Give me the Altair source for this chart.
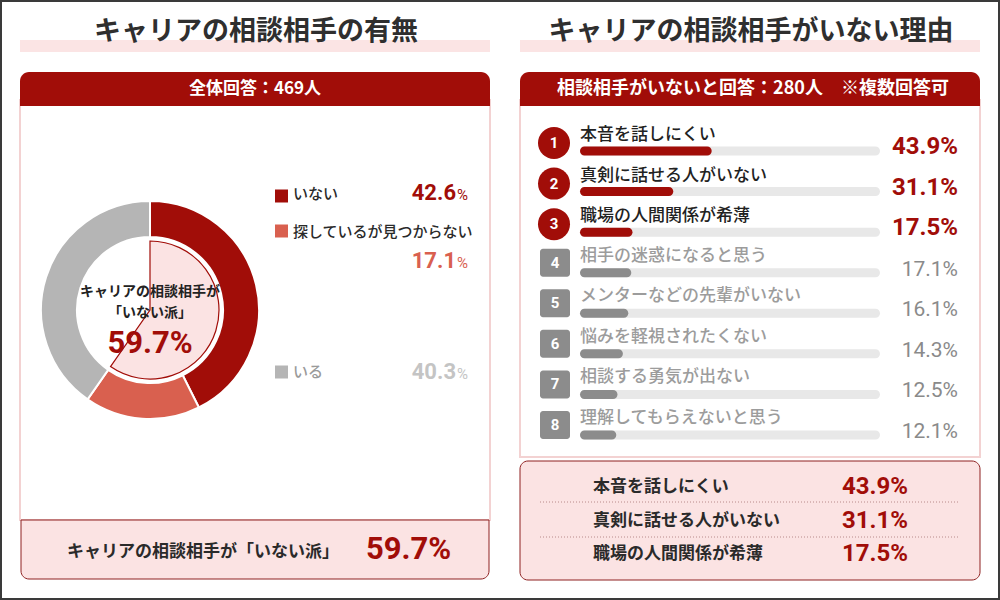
import altair as alt
import pandas as pd

# ---------------- data ----------------
left_title = "キャリアの相談相手の有無"
right_title = "キャリアの相談相手がいない理由"
left_header = "全体回答：469人"
right_header = "相談相手がいないと回答：280人　※複数回答可"

presence_labels = ["いない", "探しているが見つからない", "いる"]
presence_values = [42.6, 17.1, 40.3]
presence_order = [1, 2, 3]
presence_colors = ["#a10d08", "#d9604f", "#b5b5b5"]

none_group_line1 = "キャリアの相談相手が"
none_group_line2 = "「いない派」"
none_group_label = "キャリアの相談相手が「いない派」"
none_group_value = 59.7

reason_ranks = [1, 2, 3, 4, 5, 6, 7, 8]
reason_labels = [
    "本音を話しにくい",
    "真剣に話せる人がいない",
    "職場の人間関係が希薄",
    "相手の迷惑になると思う",
    "メンターなどの先輩がいない",
    "悩みを軽視されたくない",
    "相談する勇気が出ない",
    "理解してもらえないと思う",
]
reason_values = [43.9, 31.1, 17.5, 17.1, 16.1, 14.3, 12.5, 12.1]

# ---------------- styles ----------------
RED = "#a10d08"
SALMON = "#d9604f"
PINK = "#fbe3e3"
PINK_BORDER = "#f3d2d2"
GRAY_BAR = "#8c8c8c"
TRACK = "#e8e8e8"
DARK = "#2f2f2f"
JP = "Noto Sans CJK JP"
NUM = "Roboto"

presence_df = pd.DataFrame({
    "label": presence_labels,
    "value": presence_values,
    "order": presence_order,
})
presence_df["num"] = presence_df["value"].map(lambda v: f"{v:.1f}")

none_df = pd.DataFrame({"label": [none_group_label], "value": [none_group_value]})
none_df["text"] = none_df["value"].map(lambda v: f"{v:.1f}%")

reasons_df = pd.DataFrame({"rank": reason_ranks, "label": reason_labels, "value": reason_values})
reasons_df["text"] = reasons_df["value"].map(lambda v: f"{v:.1f}%")
reasons_df["rank_text"] = reasons_df["rank"].astype(str)
top3_df = reasons_df[reasons_df["rank"] <= 3]
rest_df = reasons_df[reasons_df["rank"] > 3]

blank = alt.Data(values=[{}])

color_scale = alt.Scale(domain=presence_labels, range=presence_colors)
theta_scale = alt.Scale(domain=[0, 100])
bx_scale = alt.Scale(domain=[0, 100], range=[580, 880], nice=False, zero=False)
by_scale = alt.Scale(domain=[1, 8], range=[151, 435], nice=False, zero=False)
sy_scale = alt.Scale(domain=[1, 3], range=[487, 554], nice=False, zero=False)


def box(x, x2, y, y2, **kw):
    return alt.Chart(blank).mark_rect(**kw).encode(
        x=alt.value(x), x2=alt.value(x2), y=alt.value(y), y2=alt.value(y2)
    )


def label(s, x, y, **kw):
    kw.setdefault("font", JP)
    kw.setdefault("baseline", "middle")
    return alt.Chart(blank).mark_text(text=s, **kw).encode(x=alt.value(x), y=alt.value(y))


layers = []

# frame
layers.append(box(1, 999, 1, 599, fill="white", stroke="#3a3a3a", strokeWidth=2))

# titles
layers.append(box(20, 490, 40, 52, fill="#fbe4e4"))
layers.append(box(520, 980, 40, 52, fill="#fbe4e4"))
layers.append(label(left_title, 256, 32, fontSize=27, fontWeight="bold", color=DARK, align="center"))
layers.append(label(right_title, 751, 32, fontSize=27, fontWeight="bold", color=DARK, align="center"))

# panel bodies
layers.append(box(20, 490, 100, 520, fill="white", stroke=PINK_BORDER, strokeWidth=2))
layers.append(box(520, 980, 100, 457, fill="white", stroke=PINK_BORDER, strokeWidth=2))
layers.append(box(20, 490, 72, 106, fill=RED, cornerRadiusTopLeft=9, cornerRadiusTopRight=9))
layers.append(box(520, 980, 72, 106, fill=RED, cornerRadiusTopLeft=9, cornerRadiusTopRight=9))
layers.append(label(left_header, 255, 89, fontSize=17, fontWeight="bold", color="white", align="center"))
layers.append(label(right_header, 753, 89, fontSize=18, fontWeight="bold", color="white", align="center"))

# donut
layers.append(
    alt.Chart(presence_df).mark_arc(innerRadius=73, outerRadius=109, stroke="white", strokeWidth=2).encode(
        theta=alt.Theta("value:Q", stack=True, scale=theta_scale),
        color=alt.Color("label:N", scale=color_scale, legend=None),
        order=alt.Order("order:Q"),
        x=alt.value(150), y=alt.value(310),
    )
)
layers.append(
    alt.Chart(none_df).mark_arc(innerRadius=0, outerRadius=69, fill=PINK, stroke=RED, strokeWidth=1.2).encode(
        theta=alt.Theta("value:Q", stack=True, scale=theta_scale),
        x=alt.value(150), y=alt.value(310),
    )
)
layers.append(label(none_group_line1, 150, 292, fontSize=14, fontWeight="bold", color="#222", align="center"))
layers.append(label(none_group_line2, 150, 313, fontSize=14, fontWeight="bold", color="#222", align="center"))
layers.append(
    alt.Chart(none_df).mark_text(font=NUM, fontSize=31, fontWeight="bold", color=RED, align="center",
                                 baseline="middle").encode(
        text="text:N", x=alt.value(150), y=alt.value(344)
    )
)

# left legend
legend_pos = {
    "いない": (196, 194, 193),
    "探しているが見つからない": (231, 232, 261),
    "いる": (372, 372, 372),
}
label_colors = {"いない": "#2a2a2a", "探しているが見つからない": "#2a2a2a", "いる": "#9a9a9a"}
value_colors = {"いない": RED, "探しているが見つからない": SALMON, "いる": "#c4c4c4"}
for name in presence_labels:
    sq_y, tx_y, val_y = legend_pos[name]
    sub = alt.Chart(presence_df).transform_filter(alt.datum.label == name)
    layers.append(
        sub.mark_rect().encode(
            x=alt.value(275), x2=alt.value(288), y=alt.value(sq_y - 6.5), y2=alt.value(sq_y + 6.5),
            color=alt.Color("label:N", scale=color_scale, legend=None),
        )
    )
    layers.append(
        sub.mark_text(font=JP, fontSize=15, fontWeight=500, color=label_colors[name], align="left",
                      baseline="middle").encode(text="label:N", x=alt.value(293), y=alt.value(tx_y))
    )
    layers.append(
        sub.mark_text(font=NUM, fontSize=22, fontWeight="bold", color=value_colors[name], align="right",
                      baseline="middle").encode(text="num:N", x=alt.value(456), y=alt.value(val_y))
    )
    layers.append(
        sub.mark_text(text="%", font=NUM, fontSize=15, color=value_colors[name], align="left",
                      baseline="middle").encode(x=alt.value(457), y=alt.value(val_y + 2))
    )

# left summary
layers.append(box(21, 489, 520, 579, fill=PINK, stroke="#8e2020", strokeWidth=1,
                  cornerRadiusBottomLeft=8, cornerRadiusBottomRight=8))
layers.append(
    alt.Chart(none_df).mark_text(font=JP, fontSize=17, fontWeight="bold", color="#2a2a2a", align="left",
                                 baseline="middle").encode(text="label:N", x=alt.value(67), y=alt.value(552))
)
layers.append(
    alt.Chart(none_df).mark_text(font=NUM, fontSize=31, fontWeight="bold", color=RED, align="left",
                                 baseline="middle").encode(text="text:N", x=alt.value(366), y=alt.value(550))
)

# right bars
by = alt.Y("rank:Q", scale=by_scale, axis=None)
layers.append(
    alt.Chart(reasons_df).mark_rect(yOffset=-4.5, y2Offset=4.5, cornerRadius=4.5, color=TRACK).encode(
        x=alt.X(datum=100, type="quantitative", scale=bx_scale, axis=None),
        x2=alt.X2(datum=0),
        y=by, y2=alt.Y2("rank:Q"),
    )
)
layers.append(
    alt.Chart(reasons_df).mark_rect(yOffset=-4.5, y2Offset=4.5, cornerRadius=4.5).encode(
        x=alt.X("value:Q", scale=bx_scale, axis=None),
        x2=alt.X2(datum=0),
        y=by, y2=alt.Y2("rank:Q"),
        color=alt.condition("datum.rank <= 3", alt.value(RED), alt.value(GRAY_BAR)),
    )
)
# badges
layers.append(
    alt.Chart(top3_df).mark_point(shape="circle", filled=True, size=1024, opacity=1, color=RED,
                                  yOffset=-8).encode(x=alt.value(554), y=by)
)
layers.append(
    alt.Chart(rest_df).mark_rect(yOffset=-24, y2Offset=4, cornerRadius=3, color=GRAY_BAR).encode(
        x=alt.value(540), x2=alt.value(570), y=by, y2=alt.Y2("rank:Q")
    )
)
layers.append(
    alt.Chart(top3_df).mark_text(font=NUM, fontSize=15, fontWeight="bold", color="white", align="center",
                                 baseline="middle", yOffset=-8).encode(text="rank_text:N", x=alt.value(554), y=by)
)
layers.append(
    alt.Chart(rest_df).mark_text(font=NUM, fontSize=15, fontWeight="bold", color="white", align="center",
                                 baseline="middle", yOffset=-10).encode(text="rank_text:N", x=alt.value(555), y=by)
)
# labels
layers.append(
    alt.Chart(top3_df).mark_text(font=JP, fontSize=17, fontWeight=500, color="#222", align="left",
                                 baseline="middle", yOffset=-16).encode(text="label:N", x=alt.value(580), y=by)
)
layers.append(
    alt.Chart(rest_df).mark_text(font=JP, fontSize=17, fontWeight=500, color="#9c9c9c", align="left",
                                 baseline="middle", yOffset=-17).encode(text="label:N", x=alt.value(580), y=by)
)
# values
layers.append(
    alt.Chart(top3_df).mark_text(font=NUM, fontSize=24, fontWeight="bold", color=RED, align="right",
                                 baseline="middle", yOffset=-4).encode(text="text:N", x=alt.value(958), y=by)
)
layers.append(
    alt.Chart(rest_df).mark_text(font=NUM, fontSize=21, color="#8a8a8a", align="right",
                                 baseline="middle", yOffset=-3).encode(text="text:N", x=alt.value(958), y=by)
)

# right summary
layers.append(box(520, 980, 461, 580, fill=PINK, stroke="#8e2020", strokeWidth=1, cornerRadius=8))
for yy in [502, 537]:
    layers.append(
        alt.Chart(blank).mark_rule(color="#b88a8a", strokeDash=[1, 2], strokeWidth=1).encode(
            x=alt.value(540), x2=alt.value(960), y=alt.value(yy)
        )
    )
sy = alt.Y("rank:Q", scale=sy_scale, axis=None)
layers.append(
    alt.Chart(top3_df).mark_text(font=JP, fontSize=17, fontWeight="bold", color="#2a2a2a", align="left",
                                 baseline="middle").encode(text="label:N", x=alt.value(593), y=sy)
)
layers.append(
    alt.Chart(top3_df).mark_text(font=NUM, fontSize=24, fontWeight="bold", color=RED, align="left",
                                 baseline="middle").encode(text="text:N", x=alt.value(842), y=sy)
)

chart = alt.layer(*layers).resolve_scale(
    x="independent", y="independent"
).properties(
    width=1000, height=600, autosize=alt.AutoSizeParams(type="none"), padding=0, background="white"
).configure_view(stroke=None)

chart.save("out.html", embed_options={"renderer": "svg", "actions": False})
